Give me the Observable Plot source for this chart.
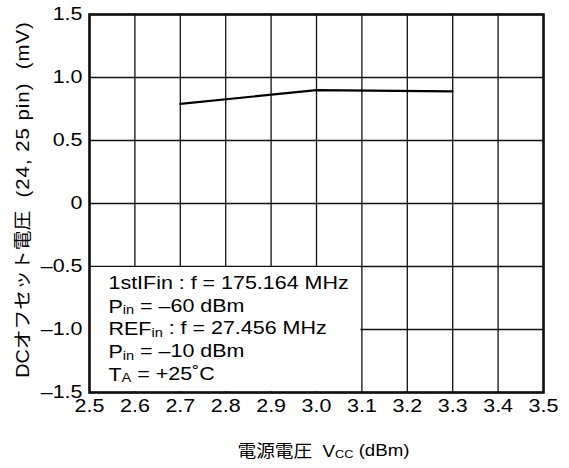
<!DOCTYPE html>
<html><head><meta charset="utf-8">
<script src="https://cdn.jsdelivr.net/npm/d3@7"></script>
<script src="https://cdn.jsdelivr.net/npm/@observablehq/plot@0.6"></script>
<style>
body{margin:0;background:#fff;}
svg{font-family:"Liberation Sans",Arial,"Noto Sans CJK JP",sans-serif;}
</style>
</head><body><div id="chart"></div>
<script>
// data
const vcc = [2.7, 3.0, 3.3];
const offset = [0.79, 0.90, 0.89];
const xTicks = [2.5, 2.6, 2.7, 2.8, 2.9, 3.0, 3.1, 3.2, 3.3, 3.4, 3.5];
const yTicks = [-1.5, -1.0, -0.5, 0, 0.5, 1.0, 1.5];
const yTickLabels = ["–1.5", "–1.0", "–0.5", "0", "0.5", "1.0", "1.5"];
const xTitle = [["電源電圧  V"], ["CC", "sub"], [" (dBm)"]];
const yTitle = [["DCオフセット電圧"], ["  (24, 25 pin)  (mV)", "wide"]];
const legendBox = [{x1: 2.5, x2: 3.1, y1: -1.5, y2: -0.5}];
const legendLines = [
  [["1stIFin : f = 175.164 MHz"]],
  [["P"], ["in", "sub"], [" = –60 dBm"]],
  [["REF"], ["in", "sub"], [" : f = 27.456 MHz"]],
  [["P"], ["in", "sub"], [" = –10 dBm"]],
  [["T"], ["A", "sub"], [" = +25˚C"]]
];
const legendY = [-0.635, -0.82, -0.998, -1.18, -1.36];

const data = vcc.map((v, i) => ({v, o: offset[i]}));
const legendData = legendLines.map((l, i) => ({y: legendY[i], text: l.map(p => p[0]).join("")}));
const FONT = '"Liberation Sans",Arial,"Noto Sans CJK JP",sans-serif';

const plot = Plot.plot({
  width: 569, height: 468,
  marginLeft: 89, marginTop: 14, marginRight: 26, marginBottom: 76,
  style: {fontSize: "18.5px", fontFamily: FONT, color: "#000", background: "#fff"},
  x: {domain: [2.5, 3.5], ticks: xTicks, tickSize: 0, tickPadding: 6, tickFormat: d3.format(".1f"), label: null},
  y: {domain: [-1.5, 1.5], ticks: yTicks, tickSize: 0, tickPadding: 7,
      tickFormat: d => yTickLabels[yTicks.findIndex(t => Math.abs(t - d) < 1e-9)], label: null},
  marks: [
    Plot.ruleX(xTicks, {stroke: "#111", strokeWidth: 1.3}),
    Plot.ruleY(yTicks, {stroke: "#111", strokeWidth: 1.3}),
    Plot.rect(legendBox, {x1: "x1", x2: "x2", y1: "y1", y2: "y2", fill: "#fff", inset: 1}),
    Plot.frame({stroke: "#111", strokeWidth: 2.6}),
    Plot.line(data, {x: "v", y: "o", stroke: "#000", strokeWidth: 2.2}),
    Plot.text(legendData, {x: () => 2.5, y: "y", text: "text", dx: 19, textAnchor: "start", fontSize: 18.5, fill: "#000", className: "legend-text"}),
    Plot.text([yTitle.map(p => p[0]).join("")], {frameAnchor: "left", dx: -66, dy: -4, rotate: -90, textAnchor: "middle", text: d => d, fontSize: 18, fill: "#000", className: "y-title"}),
    Plot.text([xTitle.map(p => p[0]).join("")], {frameAnchor: "bottom", dx: 7, dy: 64, textAnchor: "middle", text: d => d, fontSize: 17, fill: "#000", className: "x-title"})
  ]
});
document.getElementById("chart").appendChild(plot);

function rich(node, parts) {
  const t = d3.select(node);
  t.text(null);
  parts.forEach((p, j) => {
    const sp = t.append("tspan").text(p[0]);
    if (p[1] === "sub") sp.attr("font-size", "0.68em").attr("dy", "0.12em");
    else if (p[1] === "wide") sp.attr("font-size", "1.03em").attr("letter-spacing", "0.9");
    else if (j > 0 && parts[j - 1][1] === "sub") sp.attr("dy", "-0.12em");
  });
}
d3.select(plot).selectAll(".legend-text text").each(function (d, i) { rich(this, legendLines[i]); });
d3.select(plot).selectAll(".x-title text").each(function () { rich(this, xTitle); });
d3.select(plot).selectAll(".y-title text").each(function () { rich(this, yTitle); });
// the reference's lettering is horizontally wide; stretch text about its anchor
d3.select(plot).selectAll("text").each(function () {
  const el = d3.select(this);
  const tr = el.attr("transform");
  const s = this.closest(".y-title") ? 1.1 : (this.closest(".x-title") ? 1.1 : 1.16);
  if (tr) el.attr("transform", tr + ` scale(${s},1)`);
});
</script></body></html>
